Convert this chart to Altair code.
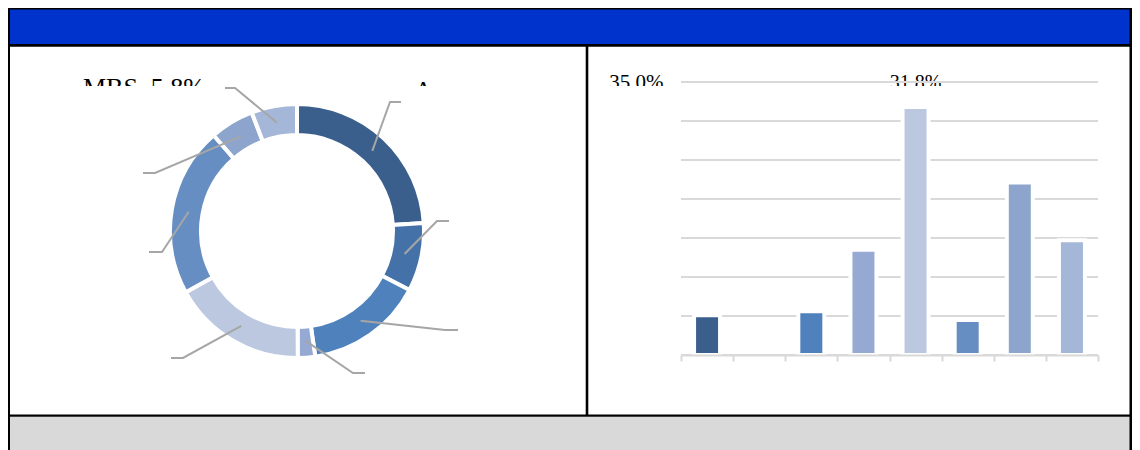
import math
import altair as alt
import pandas as pd

# ---------------- data ----------------
# left panel: donut, share of each segment (%), clockwise from 12 o'clock
donut_values = [24.0, 8.7, 15.0, 2.2, 17.1, 21.6, 5.6, 5.8]
donut_labels = ["Agency", "", "", "", "", "", "", "MBS"]
seg_index = [1, 2, 3, 4, 5, 6, 7, 8]

# right panel: bars (%)
bar_categories = ["1", "2", "3", "4", "5", "6", "7", "8"]
bar_values = [5.1, 0.0, 5.6, 13.5, 31.8, 4.5, 22.1, 14.7]
y_ticks = [0, 5, 10, 15, 20, 25, 30, 35]

palette = ["#3B5F8C", "#4472A8", "#4F81BD", "#95A9D2",
           "#BCC8E0", "#678EC2", "#8DA5CD", "#A4B7D9"]

# ---------------- layout (pixels in the chart) ----------------
W, H = 1124, 442
CX, CY = 289, 223
R_MID = 110
# leader line elbow and end points (annotation layout)
leader_elbow = [(382, 94), (429, 213), (437, 322), (345, 365),
                (175, 350), (154, 244), (147, 165), (227, 80)]
leader_end = [(393, 94), (441, 213), (450, 322), (357, 365),
              (163, 350), (141, 244), (135, 165), (217, 80)]

FONT = "Liberation Serif"
GRID = "#D9D9D9"

# ---------------- tables ----------------
donut_df = pd.DataFrame({"idx": seg_index, "v": donut_values})
bar_df = pd.DataFrame({"cat": bar_categories, "idx": seg_index,
                       "v": [b / 100 for b in bar_values]})
tick_df = pd.DataFrame({"t": [t / 100 for t in y_ticks]})

total = sum(donut_values)
rows = []
cum = 0.0
for i, v in enumerate(donut_values):
    mid = (cum + v / 2) / total * 2 * math.pi
    cum += v
    px = CX + R_MID * math.sin(mid)
    py = CY - R_MID * math.cos(mid)
    pts = [(px, py), leader_elbow[i], leader_end[i]]
    for o, (x, y) in enumerate(pts):
        rows.append({"seg": seg_index[i], "o": o, "px": x, "py": y})
leader_df = pd.DataFrame(rows)

one = pd.DataFrame({"k": [0]})


def box(x, x2, y, y2, color):
    return alt.Chart(one).mark_rect(color=color, strokeWidth=0).encode(
        x=alt.value(x), x2=alt.value(x2), y=alt.value(y), y2=alt.value(y2))


color_enc = alt.Color("idx:O", scale=alt.Scale(domain=seg_index, range=palette),
                      legend=None)
yscale = alt.Scale(domain=[0, 0.35], range=[347, 74], nice=False, zero=True)
xscale = alt.Scale(domain=bar_categories, range=[673, 1090],
                   paddingInner=0, paddingOuter=0)

x_axis = alt.Axis(labels=False, title=None, grid=False,
                  domainColor=GRID, domainWidth=2,
                  tickColor=GRID, tickWidth=2, tickSize=6,
                  tickBand="extent", offset=-95, zindex=1)
y_axis = alt.Axis(values=[t / 100 for t in y_ticks], format=".1%",
                  title=None, grid=False, domain=False, ticks=False,
                  labelFont=FONT, labelFontSize=21, labelColor="black",
                  labelPadding=18, offset=-673, zindex=0)

# ---------------- layers ----------------
header = box(1, 1124, 1, 37, "#0033CC")
footer = box(1, 1124, 409, 442, GRID)

bars = alt.Chart(bar_df).transform_filter("datum.v > 0").mark_bar(
    size=26, stroke="white", strokeWidth=4).encode(
    x=alt.X("cat:N", scale=xscale, sort=bar_categories, axis=x_axis),
    y=alt.Y("v:Q", scale=yscale, axis=y_axis),
    color=color_enc,
)

bar_text = alt.Chart(bar_df).mark_text(
    font=FONT, fontSize=20, color="black", baseline="alphabetic", dy=-18
).encode(
    x=alt.X("cat:N", scale=xscale, sort=bar_categories, axis=None),
    y=alt.Y("v:Q", scale=yscale, axis=None),
    text=alt.Text("v:Q", format=".1%"),
)

lab_right = alt.Chart(pd.DataFrame({
    "t": [f"{donut_labels[7]}, {donut_values[7]:.1f}%"]})).mark_text(
    font=FONT, fontSize=26, color="black", align="right", baseline="alphabetic"
).encode(text="t:N", x=alt.value(197), y=alt.value(88))

lab_left = alt.Chart(pd.DataFrame({
    "t": [donut_labels[0]]})).mark_text(
    font=FONT, fontSize=26, color="black", align="left", baseline="alphabetic"
).encode(text="t:N", x=alt.value(406), y=alt.value(91))

mask = box(1, 1124, 78, 407, "white")

grid = alt.Chart(tick_df).mark_rule(color=GRID, strokeWidth=2).encode(
    y=alt.Y("t:Q", scale=yscale, axis=None),
    x=alt.value(673), x2=alt.value(1090))

donut = alt.Chart(donut_df).mark_arc(stroke="white", strokeWidth=4).encode(
    theta=alt.Theta("v:Q", stack=True),
    order=alt.Order("idx:Q"),
    color=color_enc,
    x=alt.value(CX), y=alt.value(CY),
    radius=alt.value(127), radius2=alt.value(96),
)

leaders = alt.Chart(leader_df).mark_line(color="#A6A6A6", strokeWidth=2).encode(
    x=alt.X("px:Q", scale=None, axis=None),
    y=alt.Y("py:Q", scale=None, axis=None),
    detail="seg:N",
    order="o:Q",
)

borders = [
    box(0, 2, 0, 442, "black"),           # left
    box(1121.5, 1124, 0, 442, "black"),   # right
    box(0, 1124, 0, 1.5, "black"),        # top
    box(0, 1124, 36, 38.7, "black"),      # header bottom
    box(577.7, 580.3, 37, 408, "black"),  # divider
    box(0, 1124, 406.5, 408.8, "black"),  # panel bottom
]

chart = alt.layer(
    header, footer, lab_right, lab_left, bar_text, mask, grid, bars,
    donut, leaders, *borders
).resolve_scale(
    x="independent", y="independent"
).resolve_axis(
    x="independent", y="independent"
).properties(
    width=W, height=H, autosize="none", padding=0
).configure_view(stroke=None)

chart.save("out.html", embed_options={"renderer": "svg", "actions": False})
